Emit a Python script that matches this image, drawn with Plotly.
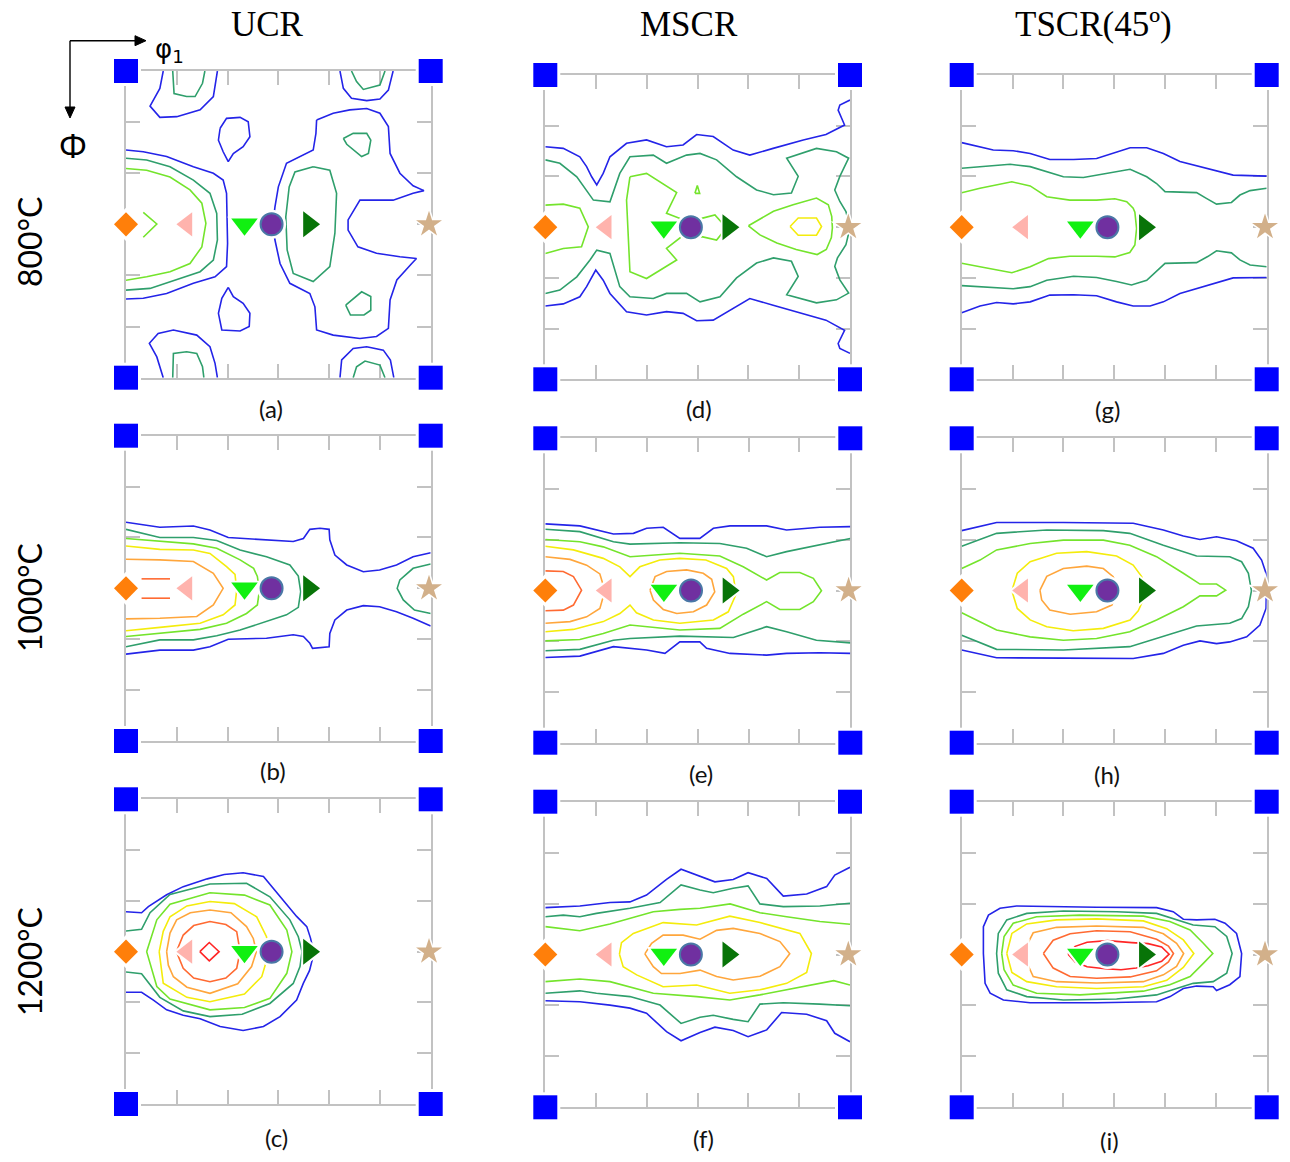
import plotly.graph_objects as go

W, H = 1290, 1162

# ------------------------------------------------------------------ data
COL_TITLES = ["UCR", "MSCR", "TSCR(45º)"]
ROW_TITLES = ["800°C", "1000°C", "1200°C"]
PANEL_LETTERS = ["(a)", "(b)", "(c)", "(d)", "(e)", "(f)", "(g)", "(h)", "(i)"]

# ideal orientations (phi1, Phi) in degrees
cube_phi1 = [0, 90, 0, 90]
cube_Phi = [0, 0, 90, 90]
comp_phi1 = [0, 18, 35, 43, 54, 89.5]
comp_Phi = [45, 45, 45, 45, 45, 45]

tick_deg = [15, 30, 45, 60, 75]

# iso-intensity lines: (level, phi1 list, Phi list)
UCR_800 = [
    (1, [11.0, 10.0, 7.1, 10.0, 15.0, 21.9, 25.8, 27.0], [0, 5.1, 10.3, 13.6, 13.4, 11.4, 7.5, 0]),
    (2, [13.8, 14.2, 17.9, 20.4, 22.6, 23.3], [0, 6.6, 7.5, 7.5, 3.6, 0]),
    (1, [63.2, 64.2, 66.6, 71.1, 75.0, 77.5, 78.9], [0, 5.1, 8.0, 8.7, 8.2, 5.6, 0]),
    (2, [66.6, 68.1, 70.1, 75.0, 76.5], [0, 3.1, 5.4, 4.1, 0]),
    (1, [27.8, 29.7, 33.7, 36.1, 36.6, 34.6, 31.7, 30.2, 28.7, 27.3, 27.8],
        [16.8, 13.9, 13.6, 14.9, 19.3, 22.2, 24.2, 26.6, 23.7, 20.3, 16.8]),
    (1, [30.2, 31.7, 34.6, 36.6, 36.4, 33.7, 28.3, 27.3, 28.3, 30.2],
        [63.5, 66.2, 68.2, 71.1, 75.0, 76.3, 76.0, 71.1, 66.7, 63.5]),
    (1, [0, 5.1, 12.0, 19.9, 25.8, 28.7, 29.7, 29.9, 30.0, 29.7, 26.3, 19.9, 12.0, 5.1, 0],
        [23.2, 23.7, 25.1, 28.1, 30.0, 32.0, 35.9, 42.8, 50.6, 57.4, 60.4, 62.3, 65.3, 66.7, 66.9]),
    (2, [0, 6.1, 13.0, 19.9, 24.8, 26.8, 27.0, 25.8, 21.9, 14.0, 7.1, 0],
        [25.6, 26.1, 28.1, 32.0, 35.9, 41.8, 49.6, 55.5, 58.9, 61.4, 63.8, 64.3]),
    (3, [0, 6.1, 13.0, 18.9, 22.4, 23.6, 22.4, 18.9, 13.0, 6.1, 0],
        [28.6, 29.1, 31.1, 34.9, 38.8, 44.7, 51.6, 56.5, 58.9, 60.4, 61.4]),
    (3, [5.1, 9.1, 5.1], [41.5, 44.9, 48.8]),
    (1, [56.3, 61.2, 66.1, 71.1, 75.0, 77.5, 78.0, 80.9, 84.8, 88.0, 84.8, 78.9, 74.0, 69.1, 65.6, 65.6,
         68.5, 74.0, 80.9, 85.8, 84.4, 80.0, 78.0, 77.5, 74.0, 69.1, 61.2, 56.3, 55.8, 54.3, 48.4, 45.5,
         44.0, 43.3, 44.0, 45.0, 47.4, 51.4, 55.3, 56.1, 56.3],
        [14.4, 12.4, 11.4, 11.0, 12.4, 16.3, 24.2, 30.0, 33.7, 35.1, 35.9, 37.9, 37.9, 37.9, 43.7, 46.7,
         51.6, 53.5, 54.5, 55.0, 56.5, 61.3, 67.2, 75.5, 77.9, 78.5, 77.5, 76.0, 69.2, 65.3, 62.3, 56.5,
         49.6, 45.7, 39.9, 34.0, 27.1, 25.1, 23.2, 18.3, 14.4]),
    (2, [55.3, 60.2, 62.2, 61.7, 60.2, 55.3, 49.4, 47.6, 47.2, 48.2, 49.9, 55.3],
        [28.1, 29.1, 35.9, 47.6, 57.4, 61.8, 59.4, 52.5, 42.8, 34.0, 29.6, 28.1]),
    (2, [64.2, 67.1, 71.1, 72.3, 71.6, 69.6, 65.2, 64.2], [19.8, 18.3, 18.3, 20.3, 24.2, 25.1, 21.5, 19.8]),
    (2, [64.9, 67.3, 69.6, 72.3, 72.3, 70.3, 66.3, 64.9], [68.7, 66.7, 64.8, 66.2, 70.2, 71.6, 71.6, 68.7]),
    (1, [11.0, 9.1, 6.9, 9.5, 14.0, 20.9, 24.8, 26.3, 27.0], [90, 83.9, 79.9, 77.0, 76.0, 77.5, 80.9, 85.8, 90]),
    (2, [13.8, 14.0, 17.9, 20.9, 22.6, 23.0], [90, 82.9, 82.4, 82.9, 86.8, 90]),
    (1, [63.2, 63.7, 67.1, 71.1, 76.0, 78.1, 79.1], [90, 84.8, 81.4, 80.9, 81.9, 84.8, 90]),
    (2, [67.1, 68.1, 70.6, 75.0, 76.5], [90, 86.8, 85.1, 86.3, 90]),
]

UCR_1000 = [
    (1, [0, 10, 19.9, 24.8, 30.2, 41.5, 49.4, 52.4, 54.3, 57.3, 60.0, 60.2, 61.7, 65.2, 70.1, 74.9, 79.9, 84.8, 90],
        [25.5, 27.0, 26.6, 27.8, 30.0, 30.6, 31.2, 30.3, 27.6, 27.3, 27.6, 30.7, 35.2, 38.1, 40.1, 39.6, 38.1, 35.7, 34.5]),
    (1, [0, 10, 19.9, 24.8, 30.2, 41.5, 49.4, 52.4, 54.3, 55.1, 60.0, 60.2, 61.7, 65.2, 70.1, 74.9, 79.9, 84.8, 90],
        [64.4, 63.2, 63.2, 62.2, 60.0, 59.7, 58.7, 59.2, 61.2, 62.7, 62.2, 58.3, 54.3, 51.4, 50.1, 50.4, 51.9, 53.8, 56.1]),
    (2, [0, 10, 19.9, 26.8, 33.7, 41.5, 48.4, 50.9, 51.6, 50.9, 47.4, 39.6, 33.7, 26.8, 19.9, 10, 0],
        [27.6, 30.0, 30.0, 30.9, 33.7, 35.7, 38.1, 41.4, 46.0, 50.6, 52.8, 55.3, 57.3, 59.0, 60.2, 60.2, 62.2]),
    (2, [90, 84.8, 80.9, 80.1, 81.9, 85.2, 90], [37.8, 39.1, 42.5, 45.0, 48.4, 51.4, 52.4]),
    (3, [0, 10, 19.9, 26.8, 33.7, 37.7, 38.8, 39.4, 38.8, 35.6, 29.7, 21.9, 10, 0],
        [30.3, 31.2, 31.9, 33.2, 36.6, 39.1, 41.5, 45.7, 49.9, 52.4, 55.3, 57.1, 58.3, 59.2]),
    (4, [0, 10, 19.9, 24.8, 29.7, 32.2, 32.7, 32.2, 28.7, 21.9, 10, 0],
        [32.5, 33.5, 33.7, 34.7, 38.6, 40.9, 45.5, 49.9, 52.8, 55.3, 56.5, 57.5]),
    (5, [0, 10, 19.9, 25.8, 28.7, 25.8, 20.9, 10, 0], [36.4, 36.6, 37.1, 40.6, 45.0, 49.9, 53.3, 53.8, 54.0]),
    (6, [4.6, 13.0], [42.2, 42.2]),
    (6, [4.6, 13.0], [47.9, 47.9]),
]

UCR_1200 = [
    (1, [0, 4.6, 6.6, 12, 16.9, 24, 29, 34.6, 40.6, 45.5, 50.4, 53.4, 54.5, 55.5, 54.2, 52.4, 50.4, 45.5,
         40.6, 34.6, 27.8, 21.9, 16.9, 12, 8.1, 4.6, 0],
        [33.2, 33.5, 31.7, 28.2, 25.8, 23.5, 22.2, 21.7, 22.8, 28.7, 34.6, 37.6, 41.0, 45.5, 50.6, 54.3, 59.3, 64.2,
         67.1, 68.3, 67.1, 64.8, 63.8, 62.2, 59.3, 57.0, 57.0]),
    (2, [0, 4.6, 7.1, 13, 24.8, 35.6, 42.5, 48.4, 50.9, 52.0, 51.4, 49.4, 42.5, 34.3, 24.8, 16.9, 10, 4.6, 0],
        [38.9, 38.4, 33.5, 28.1, 25.0, 24.8, 28.8, 35.6, 40.6, 45.0, 49.4, 54.4, 60.3, 63.5, 64.2, 62.5, 58.5, 51.5, 51.0]),
    (3, [6.1, 9.1, 13, 24.8, 35, 42.5, 47.5, 49, 47.5, 42.5, 35, 24.8, 13, 9.1, 6.1],
        [45, 35.6, 31.0, 27.6, 28.3, 31.2, 38.6, 45, 51.4, 58.8, 61.5, 62.2, 59.0, 55.3, 45]),
    (4, [9.8, 11.0, 13, 18, 24.8, 32, 38.6, 41.5, 42.3, 40.1, 35, 24.8, 18, 11.0, 9.8],
        [45, 39, 34.7, 31.5, 30.2, 30.8, 34.7, 40.6, 45, 52.4, 57.5, 59.8, 58.5, 54.3, 45]),
    (5, [12.0, 13, 14.96, 19, 24.8, 31, 35.6, 37.6, 38.5, 37.1, 33, 24.8, 18, 14, 12.5, 12.0],
        [45, 39.5, 35.6, 33.5, 32.7, 33.5, 37.6, 41.1, 45, 49.4, 54.5, 57.3, 55.5, 52.4, 49, 45]),
    (6, [14.9, 16.9, 20, 24.8, 29.5, 32.7, 33.7, 32.7, 29.5, 24.8, 20, 16.9, 14.9],
        [45, 40.1, 37.3, 36.1, 37, 39.1, 45, 49.9, 52.8, 53.9, 52.8, 49.9, 45]),
    (7, [21.8, 24.6, 27.5, 24.6, 21.8], [45, 42.3, 45, 47.7, 45]),
]

MSCR_800 = [
    (1, [0, 5.3, 10.2, 12.2, 13.7, 15.2, 17.1, 19.1, 24.0, 29.9, 35.8, 40.7, 44.7, 49.6, 55.5, 60.4, 67.3,
         76.2, 82.9, 88.4, 86.5, 87.0, 90],
        [21.2, 21.7, 24.2, 27.1, 30.1, 32.5, 29.1, 24.2, 20.2, 19.2, 21.2, 20.7, 17.6, 18.2, 22.2, 23.7, 21.7,
         19.2, 17.6, 14.8, 10.4, 8.9, 7.4]),
    (1, [0, 5.3, 10.2, 12.2, 14.9, 17.1, 19.1, 24.0, 29.9, 35.8, 40.7, 44.7, 49.6, 55.5, 60.4, 67.3, 76.2,
         82.9, 88.4, 86.5, 87.0, 90],
        [68.3, 67.7, 65.6, 62.6, 57.7, 60.7, 64.6, 70.0, 71.0, 70.0, 70.5, 72.7, 72.5, 69.0, 66.1, 68.1, 70.5,
         72.5, 75.5, 79.4, 80.9, 82.3]),
    (2, [0, 4.3, 9.3, 14.2, 19.1, 22.0, 25.0, 31.9, 35.8, 41.7, 45.7, 50.6, 56.5, 62.4, 67.4, 72.7, 74.7,
         71.3, 80.1, 86.0, 89.6, 87.0, 85.5, 87.0, 88.8, 90.0, 88.8, 86.3, 85.5, 87.0, 89.6, 86.0, 80.1,
         71.3, 74.7, 72.7, 67.4, 62.4, 56.5, 51.6, 45.7, 41.7, 35.8, 31.9, 25.0, 22.0, 19.1, 15.2, 13.2,
         9.3, 4.3, 0],
        [25.1, 26.1, 30.1, 37.0, 37.5, 29.1, 24.2, 23.7, 26.1, 23.7, 23.2, 25.1, 30.1, 34.0, 35.4, 34.9, 30.0,
         24.6, 21.7, 22.7, 24.6, 30.0, 34.0, 37.4, 40.4, 45.2, 50.2, 54.1, 56.6, 60.6, 64.5, 66.5, 67.4,
         65.0, 59.6, 55.1, 54.1, 55.6, 60.0, 65.6, 67.1, 64.6, 64.6, 66.1, 65.6, 62.6, 52.8, 51.8, 54.7,
         59.7, 63.6, 64.6]),
    (3, [0, 5.3, 10.2, 12.7, 10.7, 5.3, 0], [38.5, 38.2, 39.4, 44.9, 50.8, 51.3, 52.8]),
    (3, [25.0, 29.9, 38.8, 35.8, 40.0, 46.2, 50.1, 53.5, 50.6, 46.2, 40.0, 35.8, 38.8, 29.9, 25.0, 24.5, 24.0, 25.0],
        [30.1, 29.1, 34.8, 40.9, 42.5, 42.4, 41.4, 45.2, 48.8, 47.8, 48.0, 51.3, 54.7, 60.2, 58.2, 46.8, 37.0, 30.1]),
    (3, [44.2, 44.9, 45.6, 44.2], [35.0, 32.7, 35.0, 35.0]),
    (3, [60.0, 67.4, 73.2, 80.1, 83.6, 84.6, 84.8, 84.5, 83.0, 80.3, 74.1, 68.4, 63.4, 60.0],
        [44.6, 40.3, 38.4, 36.4, 38.4, 41.8, 45.2, 48.1, 51.6, 53.1, 51.6, 49.7, 47.3, 44.6]),
    (4, [72.3, 74.7, 80.1, 81.6, 80.1, 74.7, 72.3], [44.8, 42.3, 42.3, 44.8, 47.4, 47.4, 44.8]),
]

MSCR_1000 = [
    (1, [0, 10.2, 20.1, 26.0, 29.9, 34.8, 39.7, 45.6, 49.6, 54.5, 65.3, 71.2, 81.0, 90],
        [25.3, 25.9, 28.3, 28.1, 26.6, 26.3, 29.6, 29.6, 26.6, 25.9, 25.9, 27.1, 26.3, 26.1]),
    (2, [0, 10.2, 20.1, 25, 39.7, 51.5, 59.4, 65.3, 71.2, 80, 90],
        [26.9, 27.6, 30.6, 31.3, 30.9, 31.1, 32.5, 35.0, 33.5, 31.6, 29.6]),
    (3, [0, 10.2, 17.1, 25, 39.7, 51.5, 58.4, 65.3, 69.2, 75.1, 79.1, 81.5, 79.1, 75.1, 69.2, 65.3, 58.4,
         51.5, 39.7, 25, 17.1, 10.2, 0],
        [29.9, 30.6, 32.1, 35.0, 34.0, 34.8, 38.0, 41.9, 39.7, 39.7, 41.4, 45.1, 48.3, 50.6, 50.6, 48.3, 52.0,
         56.2, 56.7, 55.2, 57.7, 59.5, 59.9]),
    (4, [0, 8.3, 17.1, 22, 25, 27.9, 33.8, 39.7, 47.4, 53.5, 55.5, 56.3, 54, 49.6, 39.7, 31.9, 26.9, 25,
         22, 17.1, 8.3, 0],
        [31.9, 33.0, 35.5, 38.0, 40.9, 38.0, 36.0, 35.5, 36.0, 38.5, 40.9, 46.1, 51.3, 53.7, 54.7, 53.7, 51.6,
         49.3, 51.8, 54.2, 56.5, 57.2]),
    (5, [0, 7.3, 12.2, 16.1, 17.6, 16.1, 12.2, 7.3, 0], [35.0, 35.8, 37.5, 40.1, 45.1, 50.3, 52.8, 54.2, 54.7]),
    (5, [30.9, 32.4, 35.8, 41.7, 46.6, 49.1, 50, 47.6, 43.7, 38.8, 34.8, 31.9, 30.9],
        [44.9, 40.9, 39.4, 38.9, 39.9, 41.7, 45.4, 49.3, 51.3, 51.8, 50.6, 47.8, 44.9]),
    (6, [0, 5.3, 8.3, 10.7, 8.3, 5.3, 0], [39.2, 39.4, 40.9, 44.9, 49.3, 50.8, 51.0]),
    (2, [0, 10.2, 20.1, 25, 39.7, 55.5, 65.3, 71.2, 80, 90],
        [62.8, 62.4, 59.7, 59.2, 58.5, 58.9, 55.7, 57.2, 59.7, 60.5]),
    (1, [0, 10.2, 20.1, 26, 29.9, 35.3, 39.7, 45.6, 47.6, 54.5, 65.3, 71.2, 81.0, 90],
        [64.8, 64.4, 61.6, 62.1, 62.6, 63.6, 60.2, 60.2, 62.1, 63.6, 64.1, 63.6, 63.4, 63.6]),
]

MSCR_1200 = [
    (1, [0, 10.2, 19.1, 25, 29.9, 35.8, 40.1, 45.7, 50.1, 55.5, 59.9, 65.4, 70.3, 77.2, 83.1, 85.5, 90],
        [31.2, 30.7, 29.7, 29.5, 27.5, 22.9, 19.9, 22.1, 23.6, 22.9, 20.9, 22.6, 27.8, 27.2, 25.0, 21.6, 19.3]),
    (2, [0, 5.3, 10.2, 15.1, 25, 33.9, 40.1, 45.7, 49.6, 55.5, 59.9, 63.4, 70.3, 81.1, 90],
        [33.9, 33.4, 33.9, 32.9, 31.4, 29.7, 24.5, 26.0, 26.8, 25.5, 24.8, 30.1, 30.9, 30.7, 29.9]),
    (3, [0, 10.2, 19.1, 31.9, 39.8, 45.7, 54.6, 63.4, 71.3, 81.1, 90],
        [36.8, 38.0, 36.0, 32.4, 31.7, 31.4, 30.1, 32.7, 33.9, 35.3, 36.1]),
    (4, [21.9, 22.5, 26, 34.8, 44.7, 54.5, 63.4, 75.2, 78.6, 77.2, 71.3, 63.4, 54.5, 44.7, 34.8, 27, 23.0, 21.9],
        [44.9, 41.5, 38.8, 35.6, 36.3, 33.7, 35.6, 38.8, 44.7, 50.3, 53.5, 55.4, 56.4, 54.0, 54.5, 51.0, 48.6, 44.9]),
    (5, [29.4, 31.4, 34.8, 40.7, 45.7, 50.6, 55.5, 63.4, 69.3, 72.2, 69.3, 63.4, 55.5, 50.6, 45.7, 39.8,
         34.3, 31.9, 29.4],
        [44.8, 41.7, 39.3, 39.3, 40.5, 37.9, 37.3, 38.8, 41.2, 44.8, 48.6, 51.4, 52.5, 51.5, 49.6, 50.6,
         50.6, 48.6, 44.8]),
    (3, [0, 10.2, 19.1, 31.9, 44.7, 54.5, 63.4, 71.3, 81.1, 85.2, 90],
        [53.0, 52.2, 53.0, 56.4, 57.4, 58.4, 56.9, 55.4, 53.5, 52.7, 54.0]),
    (2, [0, 10.2, 15.1, 25, 33.9, 40.1, 45.7, 49.6, 55.5, 59.9, 63.4, 70.3, 81.1, 90],
        [56.4, 55.7, 56.4, 57.4, 59.9, 65.3, 63.5, 62.9, 64.1, 64.8, 59.6, 59.2, 59.6, 60.1]),
    (1, [0, 10.2, 19.1, 25, 29.9, 35.8, 40.1, 45.7, 50.1, 55.5, 59.9, 65.4, 69.8, 77.2, 83.1, 85.5, 90],
        [58.6, 58.9, 59.9, 60.8, 62.3, 67.7, 70.4, 68.0, 66.4, 67.4, 69.2, 67.2, 62.1, 62.6, 64.5, 68.2, 70.7]),
]

TSCR_800 = [
    (1, [0, 9.3, 15.2, 20.2, 26.0, 33.0, 39.8, 45.7, 49.7, 54.6, 59.5, 64.4, 69.3, 74.2, 80.1, 90],
        [20.0, 22.2, 22.4, 23.2, 25.0, 25.0, 24.7, 22.7, 21.5, 21.5, 23.2, 25.6, 26.9, 28.1, 29.6, 29.9]),
    (2, [0, 5.4, 14.3, 20.2, 25.1, 30.0, 35.9, 41.8, 49.7, 54.6, 57.5, 60.0, 69.3, 72.2, 75.2, 79.6, 82.1, 85.1, 90],
        [27.6, 27.1, 26.4, 27.1, 28.6, 30.1, 30.3, 29.3, 27.9, 30.1, 32.1, 34.5, 34.8, 36.5, 38.2, 37.7, 35.5, 34.2, 33.5]),
    (3, [0, 5.4, 14.8, 20.2, 25.1, 31.9, 39.8, 45.2, 48.7, 50.6, 51.1, 51.6, 51.1, 49.6, 45.2, 39.8, 31.9,
         25.6, 20.2, 14.8, 5.4, 0],
        [34.8, 33.5, 31.6, 32.8, 36.0, 37.0, 37.0, 36.6, 37.5, 39.4, 40.6, 45.4, 50.3, 52.5, 53.8, 53.6, 53.6,
         54.3, 56.7, 58.5, 56.7, 55.7]),
    (2, [0, 5.4, 15.2, 20.2, 25.1, 33.0, 39.8, 45.7, 50.1, 54.6, 60.0, 69.3, 72.6, 75.2, 79.6, 82.1, 85.1, 90],
        [62.3, 62.6, 63.2, 62.6, 60.7, 59.5, 59.9, 61.1, 62.1, 60.7, 55.7, 55.5, 53.7, 52.0, 52.6, 54.7, 56.2, 56.7]),
    (1, [0, 5.4, 10.3, 15.2, 20.2, 26.0, 33.0, 39.8, 45.7, 50.6, 55.6, 59.5, 64.4, 69.3, 74.2, 80.1, 90],
        [70.3, 68.3, 67.3, 67.7, 67.1, 65.1, 65.0, 65.3, 67.1, 68.3, 68.3, 67.1, 64.6, 63.1, 61.6, 60.0, 59.9]),
]

TSCR_1000 = [
    (1, [0, 10.3, 30, 50.6, 59.5, 65.4, 70.3, 75.2, 81.1, 86, 88.5, 89.8, 89.9, 89.8, 88, 84.1, 79.1, 75.2,
         70.3, 65.4, 59.5, 50.6, 30, 10.3, 0],
        [27.3, 24.9, 24.9, 25.1, 27.1, 28.9, 29.9, 29.1, 30.3, 32.5, 36.0, 39.9, 45.1, 50.3, 55.2, 58.7, 60.2, 60.7,
         59.9, 61.2, 63.6, 65.1, 65.0, 64.9, 62.6]),
    (2, [0, 10.3, 25.1, 41.8, 49.6, 59.5, 69.3, 79.1, 82.6, 84.6, 85.5, 84.6, 82.6, 79.1, 69.3, 59.5, 49.6, 30, 10.3, 0],
        [31.9, 28.1, 27.1, 27.3, 28.1, 31.6, 34.8, 35.0, 36.5, 39.9, 45.1, 49.8, 53.3, 54.7, 55.5, 58.5, 61.6, 62.6, 62.4, 58.2]),
    (3, [0, 5.4, 10.3, 20.2, 30, 41.8, 49.6, 57.5, 65.4, 70.3, 75.2, 77.9, 75.2, 70.3, 65.4, 57.5, 49.6, 39.8,
         30, 20.2, 10.3, 5.4, 0],
        [38.5, 36.0, 33.0, 31.1, 30.1, 30.1, 31.6, 35.0, 39.9, 43.1, 43.1, 44.9, 46.6, 46.6, 49.8, 53.7, 57.2, 59.2,
         59.7, 58.7, 56.7, 54.2, 51.6]),
    (4, [14.8, 16.4, 20.2, 28, 36.9, 45.7, 50.6, 53.1, 54.6, 52.1, 49.7, 41.8, 32.9, 25.1, 20.2, 16.4, 14.8],
        [45.1, 39.9, 36.5, 34.0, 33.5, 34.8, 37.5, 40.9, 45.4, 51.0, 53.7, 56.2, 56.9, 55.7, 53.7, 50.3, 45.1]),
    (5, [23.1, 25.1, 30, 36.9, 41.8, 44.7, 46.2, 44.3, 39.8, 32, 26, 23.6, 23.1],
        [44.9, 40.8, 38.5, 37.8, 38.5, 40.9, 44.9, 49.3, 51.3, 52.0, 50.8, 47.8, 44.9]),
]

TSCR_1200 = [
    (1, [6.4, 6.4, 7.9, 11.3, 16.2, 25.1, 39.8, 57.5, 62.4, 65.4, 69.3, 74.7, 77.7, 81.1, 82.6, 82.1, 79.1,
         75.2, 74.2, 69.3, 65.4, 61.5, 57.5, 39.8, 20.2, 12.3, 8.4, 6.9, 6.4],
        [44.7, 36.8, 33.4, 31.4, 30.7, 30.9, 31.1, 31.2, 32.4, 34.6, 34.8, 34.6, 35.8, 38.8, 44.7, 51.5, 53.9,
         55.6, 54.5, 54.3, 55.0, 57.4, 58.9, 59.2, 59.2, 58.4, 56.4, 53.5, 44.7]),
    (2, [10.3, 10.8, 13.3, 19.2, 30, 45.7, 57.5, 63.4, 68.3, 74.7, 78.2, 79.8, 78.2, 74.2, 68.3, 63.4, 57.5,
         45.7, 30, 19.2, 13.3, 10.8, 10.3],
        [44.7, 38.8, 34.8, 32.9, 32.2, 32.4, 32.9, 34.8, 36.3, 36.8, 39.7, 44.7, 50.5, 53.0, 53.5, 55.0, 56.9,
         58.1, 58.4, 57.4, 55.4, 50.5, 44.7]),
    (3, [11.8, 12.5, 15.2, 22.1, 34.9, 53.6, 61.4, 67.4, 71.3, 74.1, 71.3, 67.4, 61.4, 53.6, 34.9, 22.1, 15.2, 12.5, 11.8],
        [44.7, 39.7, 35.8, 33.9, 33.4, 33.7, 35.3, 37.8, 41.7, 44.7, 47.6, 51.5, 53.9, 55.8, 56.9, 56.4, 54.0, 49.5, 44.7]),
    (4, [13.3, 14.8, 19.2, 28, 39.8, 53.6, 60.5, 65.4, 68.5, 65.4, 60.5, 53.6, 39.8, 28, 19.2, 14.8, 13.3],
        [44.7, 38.8, 36.0, 34.8, 34.5, 35.1, 37.4, 40.7, 44.7, 48.8, 52.6, 54.5, 55.0, 54.5, 53.0, 50.3, 44.7]),
    (5, [18.0, 21.1, 28, 39.8, 53.6, 59.5, 63.4, 65.5, 63.4, 59.5, 53.6, 39.8, 28, 21.1, 18.0],
        [44.7, 38.6, 37.0, 36.6, 37.0, 38.9, 41.7, 44.7, 48.5, 51.0, 53.0, 53.4, 53.0, 51.5, 44.7]),
    (6, [24.1, 27, 32, 39.8, 49.7, 57.5, 61, 62.5, 61, 57.5, 49.7, 39.8, 32, 27, 24.1],
        [44.7, 40.8, 38.9, 38.0, 38.3, 40.5, 42.5, 44.7, 47.2, 49.8, 51.6, 52.0, 51.5, 49.0, 44.7]),
    (7, [31.4, 33.5, 37, 43, 50.2, 55, 59, 61.2, 59, 55, 51.5, 47, 42.3, 37, 33.5, 31.4],
        [44.9, 42.6, 41.4, 40.9, 41.5, 41.8, 42.8, 44.9, 47, 48.3, 49.0, 49.5, 49.2, 48.6, 47.2, 44.9]),
]

# ------------------------------------------------------------------ styling / layout
LEVEL_COLORS = {1: "#2424e8", 2: "#2f9f6c", 3: "#74e42c", 4: "#f4ec0c",
                5: "#ffa63c", 6: "#ff6a32", 7: "#ff2626"}

# panel frames in pixels (left, top, right, bottom), column-major order a..i
PANEL_BOXES = [
    (126.0, 71.0, 430.7, 377.7), (126.0, 435.7, 430.7, 741.0), (126.0, 799.3, 430.7, 1104.0),
    (545.3, 75.0, 850.0, 379.3), (545.3, 438.3, 850.3, 742.7), (545.3, 801.7, 850.0, 1107.3),
    (961.7, 75.0, 1266.7, 379.3), (961.7, 438.3, 1266.7, 742.7), (961.7, 801.7, 1266.7, 1107.3),
]
PANEL_DATA = [UCR_800, UCR_1000, UCR_1200, MSCR_800, MSCR_1000, MSCR_1200, TSCR_800, TSCR_1000, TSCR_1200]
LETTER_POS = [(271, 408), (273, 770), (276, 1137), (699, 408), (701, 773), (703, 1138),
              (1107, 409), (1107, 774), (1109, 1140)]
COL_TITLE_POS = [(267.5, 24), (689, 24), (1093, 25)]
ROW_TITLE_POS = [(29, 242), (29, 598), (29, 962)]

CUBE_STYLE = dict(symbol="square", size=24, color="#0000ff")
COMP_SYMBOLS = ["diamond", "triangle-left", "triangle-down", "circle", "triangle-right", "star"]
COMP_SIZES = [18.5, 21, 23, 22, 22.5, 19.5]
COMP_COLORS = ["#ff7f0a", "#ffb3ad", "#11f011", "#7030a0", "#087408", "#d2b08a"]
COMP_LINE_COLORS = ["#ff7f0a", "#ffb3ad", "#11f011", "#4a78a6", "#087408", "#d2b08a"]
COMP_LINE_WIDTHS = [0, 0, 0, 2, 0, 0]


def px(x):
    return x / W


def py(y):
    return 1 - y / H


fig = go.Figure()
layout_axes = {}

for k, (data, box) in enumerate(zip(PANEL_DATA, PANEL_BOXES), start=1):
    xn = "x" if k == 1 else f"x{k}"
    yn = "y" if k == 1 else f"y{k}"
    L, T, R, B = box
    common = dict(showgrid=False, zeroline=False, showline=True, linecolor="#c2c2c2", linewidth=2,
                  mirror="ticks", ticks="inside", ticklen=14, tickwidth=2, tickcolor="#c2c2c2",
                  tickvals=tick_deg, showticklabels=False, layer="below traces", fixedrange=True)
    layout_axes["xaxis" if k == 1 else f"xaxis{k}"] = dict(domain=[px(L), px(R)], range=[0, 90], anchor=yn, **common)
    layout_axes["yaxis" if k == 1 else f"yaxis{k}"] = dict(domain=[py(B), py(T)], range=[90, 0], anchor=xn, **common)

    for level, xs, ys in data:
        fig.add_trace(go.Scatter(x=xs, y=ys, mode="lines", xaxis=xn, yaxis=yn,
                                 line=dict(color=LEVEL_COLORS[level], width=1.6),
                                 hoverinfo="skip", showlegend=False))

    # white halos under the component markers
    fig.add_trace(go.Scatter(
        x=cube_phi1 + comp_phi1, y=cube_Phi + comp_Phi, mode="markers", xaxis=xn, yaxis=yn,
        cliponaxis=False, hoverinfo="skip", showlegend=False,
        marker=dict(symbol=[CUBE_STYLE["symbol"]] * 4 + COMP_SYMBOLS,
                    size=[CUBE_STYLE["size"] + 6] * 4 + [s + 7 for s in COMP_SIZES],
                    color="white", opacity=1, line=dict(width=0))))
    fig.add_trace(go.Scatter(
        x=cube_phi1 + comp_phi1, y=cube_Phi + comp_Phi, mode="markers", xaxis=xn, yaxis=yn,
        cliponaxis=False, hoverinfo="skip", showlegend=False,
        marker=dict(symbol=[CUBE_STYLE["symbol"]] * 4 + COMP_SYMBOLS,
                    size=[CUBE_STYLE["size"]] * 4 + COMP_SIZES,
                    color=[CUBE_STYLE["color"]] * 4 + COMP_COLORS, opacity=1,
                    line=dict(color=[CUBE_STYLE["color"]] * 4 + COMP_LINE_COLORS,
                              width=[0] * 4 + COMP_LINE_WIDTHS))))

annotations = []
for text, (cx, cy) in zip(COL_TITLES, COL_TITLE_POS):
    annotations.append(dict(text=text, x=px(cx), y=py(cy), xref="paper", yref="paper", showarrow=False,
                            xanchor="center", yanchor="middle",
                            font=dict(family="Liberation Serif", size=35, color="black")))
for text, (cx, cy) in zip(ROW_TITLES, ROW_TITLE_POS):
    annotations.append(dict(text=text, x=px(cx), y=py(cy), xref="paper", yref="paper", showarrow=False,
                            xanchor="center", yanchor="middle", textangle=-90,
                            font=dict(family="Lato, Noto Sans", size=32, color="black")))
for text, (cx, cy) in zip(PANEL_LETTERS, LETTER_POS):
    annotations.append(dict(text=text, x=px(cx), y=py(cy), xref="paper", yref="paper", showarrow=False,
                            xanchor="center", yanchor="middle",
                            font=dict(family="Lato, Noto Sans", size=24, color="#111111")))

annotations.append(dict(text="φ<sub>1</sub>", x=px(153), y=py(50), xref="paper", yref="paper", showarrow=False,
                        xanchor="left", yanchor="middle", font=dict(family="DejaVu Sans", size=26, color="black")))
annotations.append(dict(text="Φ", x=px(72.5), y=py(146), xref="paper", yref="paper", showarrow=False,
                        xanchor="center", yanchor="middle", font=dict(family="Noto Sans", size=33, color="black")))

# coordinate-system arrows (lines + filled heads)
ox, oy = 70, 40.7
shapes = [
    dict(type="line", xref="paper", yref="paper", x0=px(ox), y0=py(oy), x1=px(137), y1=py(oy),
         line=dict(color="black", width=1.4)),
    dict(type="line", xref="paper", yref="paper", x0=px(ox), y0=py(oy), x1=px(ox), y1=py(109),
         line=dict(color="black", width=1.4)),
    dict(type="path", xref="paper", yref="paper", fillcolor="black", line=dict(color="black", width=1),
         path=f"M {px(146)} {py(oy)} L {px(135)} {py(oy - 5)} L {px(135)} {py(oy + 5)} Z"),
    dict(type="path", xref="paper", yref="paper", fillcolor="black", line=dict(color="black", width=1),
         path=f"M {px(ox)} {py(118)} L {px(ox - 5)} {py(107)} L {px(ox + 5)} {py(107)} Z"),
]

fig.update_layout(width=W, height=H, margin=dict(l=0, r=0, t=0, b=0),
                  paper_bgcolor="white", plot_bgcolor="white", showlegend=False,
                  annotations=annotations, shapes=shapes, **layout_axes)

fig.write_html("out.html")
